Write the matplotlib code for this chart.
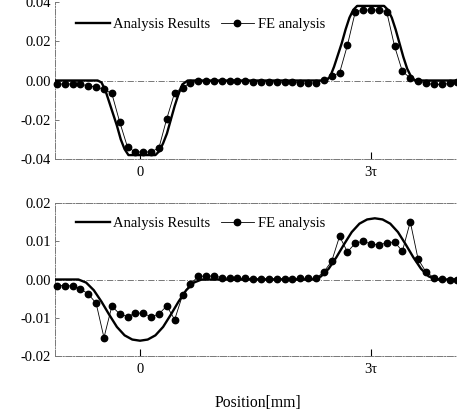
import matplotlib
matplotlib.use("Agg")
import matplotlib.pyplot as plt
from matplotlib.ticker import FixedLocator, FixedFormatter

plt.rcParams['font.family'] = ['Liberation Serif', 'DejaVu Serif']

# ---------------- data ----------------
x_fe = [-1.080, -0.978, -0.876, -0.774, -0.672, -0.570, -0.468, -0.366, -0.264, -0.162,
        -0.060, 0.042, 0.144, 0.246, 0.348, 0.450, 0.552, 0.654, 0.756, 0.858,
        0.960, 1.062, 1.164, 1.266, 1.368, 1.470, 1.572, 1.674, 1.776, 1.878,
        1.980, 2.082, 2.184, 2.286, 2.388, 2.490, 2.592, 2.694, 2.796, 2.898,
        3.000, 3.102, 3.204, 3.306, 3.408, 3.510, 3.612, 3.714, 3.816, 3.918,
        4.020, 4.122]

top_fe = [-0.0018, -0.0018, -0.0018, -0.0019, -0.0027, -0.0033, -0.0045, -0.0066, -0.0211, -0.0340,
          -0.0364, -0.0364, -0.0364, -0.0343, -0.0194, -0.0062, -0.0036, -0.0013, -0.0004, -0.0005,
          -0.0005, -0.0005, -0.0005, -0.0005, -0.0005, -0.0006, -0.0006, -0.0007, -0.0008, -0.0009,
          -0.0010, -0.0012, -0.0014, -0.0011, 0.0003, 0.0022, 0.0039, 0.0180, 0.0350, 0.0359,
          0.0359, 0.0359, 0.0350, 0.0175, 0.0046, 0.0013, 0.0000, -0.0015, -0.0020, -0.0020,
          -0.0015, -0.0010]

bot_fe = [-0.0016, -0.0016, -0.0017, -0.0024, -0.0038, -0.0062, -0.0152, -0.0070, -0.0090, -0.0097,
          -0.0088, -0.0088, -0.0098, -0.0090, -0.0069, -0.0105, -0.0041, -0.0012, 0.0008, 0.0009,
          0.0009, 0.0005, 0.0003, 0.0003, 0.0003, 0.0002, 0.0002, 0.0002, 0.0002, 0.0002,
          0.0002, 0.0003, 0.0003, 0.0003, 0.0020, 0.0048, 0.0113, 0.0072, 0.0095, 0.0100,
          0.0093, 0.0090, 0.0096, 0.0098, 0.0074, 0.0151, 0.0053, 0.0020, 0.0005, 0.0001,
          0.0000, 0.0000]

x_top_an = [-1.15, -0.55, -0.50, -0.45, -0.40, -0.35, -0.30, -0.25, -0.20, -0.15,
            0.20, 0.25, 0.30, 0.35, 0.40, 0.45, 0.50, 0.55, 0.62,
            2.42, 2.47, 2.52, 2.57, 2.62, 2.67, 2.72, 2.77, 2.82,
            3.17, 3.22, 3.27, 3.32, 3.37, 3.42, 3.47, 3.52, 3.57, 4.20]
y_top_an = [0, 0, -0.001, -0.005, -0.011, -0.017, -0.023, -0.030, -0.035, -0.038,
            -0.038, -0.036, -0.032, -0.027, -0.020, -0.013, -0.007, -0.002, 0,
            0, 0.002, 0.007, 0.013, 0.019, 0.026, 0.032, 0.036, 0.038,
            0.038, 0.036, 0.032, 0.026, 0.019, 0.012, 0.006, 0.002, 0, 0]

x_bot_an = [-1.15, -0.80, -0.70, -0.60, -0.50, -0.40, -0.30, -0.20, -0.10, 0.00,
            0.10, 0.20, 0.30, 0.40, 0.50, 0.60, 0.70, 0.80,
            2.25, 2.35, 2.45, 2.55, 2.65, 2.75, 2.85, 2.95, 3.05,
            3.15, 3.25, 3.35, 3.45, 3.55, 3.65, 3.75, 3.85, 4.20]
y_bot_an = [0, 0, -0.0008, -0.0028, -0.0058, -0.0092, -0.0124, -0.0146, -0.0157, -0.0160,
            -0.0157, -0.0146, -0.0124, -0.0092, -0.0058, -0.0028, -0.0008, 0,
            0, 0.0008, 0.0028, 0.0058, 0.0092, 0.0124, 0.0146, 0.0157, 0.0160,
            0.0157, 0.0146, 0.0124, 0.0092, 0.0058, 0.0028, 0.0008, 0, 0]

x_ticks = [0, 3]
x_ticklabels = ['0', '3\u03c4']
top_yticks = [0.04, 0.02, 0.0, -0.02, -0.04]
top_yticklabels = ['0.04', '0.02', '0.00', '-0.02', '-0.04']
bot_yticks = [0.02, 0.01, 0.0, -0.01, -0.02]
bot_yticklabels = ['0.02', '0.01', '0.00', '-0.01', '-0.02']

# ---------------- figure ----------------
W, H = 457, 411
fig = plt.figure(figsize=(W / 100, H / 100), dpi=100)

left = 55 / W
width = 405 / W
ax1 = fig.add_axes([left, 1 - 159 / H, width, 157 / H])
ax2 = fig.add_axes([left, 1 - 356 / H, width, 153 / H])

grey = '#777777'

def style(ax, yt, ytl, ylim, show_top):
    ax.set_xlim(-1.104, 4.156)
    ax.set_ylim(*ylim)
    ax.axhline(0, color=grey, lw=0.7, ls='-.', zorder=1)
    for s in ['left', 'bottom', 'top']:
        ax.spines[s].set_color(grey)
        ax.spines[s].set_linestyle('-.')
        ax.spines[s].set_linewidth(0.7)
    ax.spines['right'].set_visible(False)
    ax.spines['top'].set_visible(show_top)
    ax.xaxis.set_major_locator(FixedLocator(x_ticks))
    ax.xaxis.set_major_formatter(FixedFormatter(x_ticklabels))
    ax.yaxis.set_major_locator(FixedLocator(yt))
    ax.yaxis.set_major_formatter(FixedFormatter(ytl))
    ax.tick_params(axis='x', direction='in', length=5, width=0.8, color='black',
                   labelsize=10.5, pad=5, top=False)
    ax.tick_params(axis='y', direction='in', length=3, width=0.7, color=grey,
                   labelsize=10.5, pad=3, right=False)
    ax.patch.set_alpha(0)

for ax, yfe, xan, yan, yt, ytl, ylim, show_top, ly in [
        (ax1, top_fe, x_top_an, y_top_an, top_yticks, top_yticklabels, (-0.04, 0.04), False, 0.855),
        (ax2, bot_fe, x_bot_an, y_bot_an, bot_yticks, bot_yticklabels, (-0.02, 0.02), True, 0.869)]:
    style(ax, yt, ytl, ylim, show_top)
    ax.plot(xan, yan, color='black', lw=1.7, label='Analysis Results', zorder=3)
    ax.plot(x_fe, yfe, color='black', lw=0.6, marker='o', markersize=4.6,
            label='FE analysis', zorder=4, clip_on=False)
    ax.legend(loc='center left', bbox_to_anchor=(0.052, ly), ncol=2, frameon=False,
              fontsize=10.5, handlelength=2.3, handletextpad=0.25, columnspacing=0.7,
              borderpad=0, borderaxespad=0)

fig.text(258 / W, 1 - 403 / H, 'Position[mm]', ha='center', va='center', fontsize=11.3)

fig.savefig('out.png', dpi=100)
